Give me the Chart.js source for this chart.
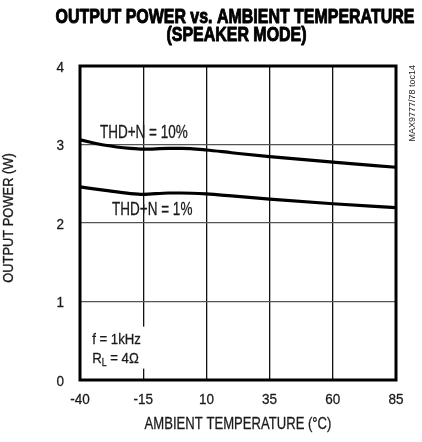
<!DOCTYPE html>
<html>
<head>
<meta charset="utf-8">
<script src="https://cdn.jsdelivr.net/npm/chart.js@4"></script>
<style>
  html, body { margin: 0; padding: 0; background: #fff; }
  #wrap { width: 422px; height: 442px; position: relative; }
</style>
</head>
<body>
<div id="wrap"><canvas id="powerChart"></canvas></div>
<script>
const FONT = "'Liberation Sans', 'DejaVu Sans', sans-serif";

// ambient temperature (°C) and output power (W)
const temps = [-40, -30, -20, -15, -5, 0, 10, 20, 35, 60, 85];
const thd10 = [3.06, 2.99, 2.95, 2.94, 2.95, 2.95, 2.93, 2.895, 2.845, 2.775, 2.71];
const thd1 = [2.46, 2.415, 2.375, 2.365, 2.382, 2.382, 2.37, 2.345, 2.305, 2.245, 2.195];

const xTicks = [-40, -15, 10, 35, 60, 85];
const yTicks = [0, 1, 2, 3, 4];

const titleLines = ['OUTPUT POWER vs. AMBIENT TEMPERATURE', '(SPEAKER MODE)'];
const xLabel = 'AMBIENT TEMPERATURE (°C)';
const yLabel = 'OUTPUT POWER (W)';
const partNote = 'MAX9777/78 toc14';

function pts(ys) {
  return temps.map((t, i) => ({ x: t, y: ys[i] }));
}

// draws text squeezed horizontally by sx (condensed look), optional outline to thicken
function narrowText(ctx, text, x, y, font, sx, align, stroke) {
  ctx.save();
  ctx.font = font;
  const w = ctx.measureText(text).width * sx;
  let left = x;
  if (align === 'center') left = x - w / 2;
  else if (align === 'right') left = x - w;
  ctx.translate(left, y);
  ctx.scale(sx, 1);
  ctx.textAlign = 'left';
  ctx.fillText(text, 0, 0);
  if (stroke) {
    ctx.strokeStyle = ctx.fillStyle;
    ctx.lineWidth = stroke;
    ctx.lineJoin = 'round';
    ctx.strokeText(text, 0, 0);
  }
  ctx.restore();
  return w;
}

const decor = {
  id: 'decor',
  afterDatasetsDraw(chart) {
    const ctx = chart.ctx;
    const a = chart.chartArea;
    const xs = chart.scales.x;
    const ys = chart.scales.y;
    const thin = 0.3;
    ctx.save();
    ctx.fillStyle = '#1a1a1a';
    ctx.textBaseline = 'alphabetic';

    // curve labels
    narrowText(ctx, 'THD+N = 10%', xs.getPixelForValue(-32.1), ys.getPixelForValue(3.08), '18px ' + FONT, 0.75, 'left', thin);
    narrowText(ctx, 'THD+N = 1%', xs.getPixelForValue(-27.3), ys.getPixelForValue(2.1), '18px ' + FONT, 0.75, 'left', thin);

    // conditions block, white background cuts the grid line
    const bx = xs.getPixelForValue(-35.2);
    ctx.fillStyle = '#fff';
    ctx.fillRect(bx - 2, ys.getPixelForValue(0.68), 56, 42);
    ctx.fillStyle = '#1a1a1a';
    narrowText(ctx, 'f = 1kHz', bx, ys.getPixelForValue(0.46), '15px ' + FONT, 0.88, 'left', thin);
    const by = ys.getPixelForValue(0.22);
    let w = narrowText(ctx, 'R', bx, by, '15px ' + FONT, 0.88, 'left', thin);
    w += narrowText(ctx, 'L', bx + w, by + 3, '10px ' + FONT, 0.88, 'left', thin);
    narrowText(ctx, ' = 4\u03A9', bx + w, by, '15px ' + FONT, 0.88, 'left', thin);

    // frame
    ctx.strokeStyle = '#000';
    ctx.lineWidth = 3;
    ctx.strokeRect(a.left, a.top, a.right - a.left, a.bottom - a.top);

    // tick labels
    xTicks.forEach(v => {
      narrowText(ctx, String(v), xs.getPixelForValue(v), a.bottom + 23.5, '15px ' + FONT, 0.9, 'center', thin);
    });
    yTicks.forEach(v => {
      narrowText(ctx, String(v), a.left - 16, ys.getPixelForValue(v) + 5.5, '15px ' + FONT, 0.9, 'right', thin);
    });

    // axis titles
    narrowText(ctx, xLabel, (a.left + a.right) / 2, a.bottom + 49, '17px ' + FONT, 0.77, 'center', thin);
    ctx.save();
    ctx.translate(12.5, 218);
    ctx.rotate(-Math.PI / 2);
    narrowText(ctx, yLabel, 0, 0, '14px ' + FONT, 0.92, 'center', thin);
    ctx.restore();

    // title
    ctx.fillStyle = '#000';
    narrowText(ctx, titleLines[0], 235, 22.7, 'bold 21px ' + FONT, 0.76, 'center', 1);
    narrowText(ctx, titleLines[1], 236.5, 40.7, 'bold 21px ' + FONT, 0.76, 'center', 1);

    // part number, rotated
    ctx.translate(a.right + 18.5, a.top - 1);
    ctx.rotate(-Math.PI / 2);
    ctx.fillStyle = '#222';
    narrowText(ctx, partNote, 0, 0, '9px ' + FONT, 1, 'right');
    ctx.restore();
  }
};

function draw() {
  new Chart(document.getElementById('powerChart'), {
    type: 'line',
    data: {
      datasets: [
        { label: 'THD+N = 10%', data: pts(thd10), borderColor: '#000', borderWidth: 3.2, pointRadius: 0, cubicInterpolationMode: 'monotone' },
        { label: 'THD+N = 1%', data: pts(thd1), borderColor: '#000', borderWidth: 3.2, pointRadius: 0, cubicInterpolationMode: 'monotone' }
      ]
    },
    plugins: [decor],
    options: {
      responsive: true,
      maintainAspectRatio: false,
      animation: false,
      parsing: false,
      layout: { padding: { left: 0, right: 26, top: 66, bottom: 0 } },
      plugins: {
        legend: { display: false },
        title: { display: false },
        tooltip: { enabled: false }
      },
      scales: {
        x: {
          type: 'linear',
          min: -40,
          max: 85,
          afterFit(s) { s.height = 62; },
          ticks: { stepSize: 25, display: false },
          grid: { color: '#111', lineWidth: 1.3, drawTicks: false },
          border: { display: false }
        },
        y: {
          type: 'linear',
          min: 0,
          max: 4,
          afterFit(s) { s.width = 80; },
          ticks: { stepSize: 1, display: false },
          grid: { color: '#555', lineWidth: 1.3, drawTicks: false },
          border: { display: false }
        }
      }
    }
  });
}

// make sure the system font is resolved before the canvas text is drawn
Promise.all([
  document.fonts.load("15px 'Liberation Sans'"),
  document.fonts.load("bold 21px 'Liberation Sans'")
]).then(draw, draw);
</script>
</body>
</html>
